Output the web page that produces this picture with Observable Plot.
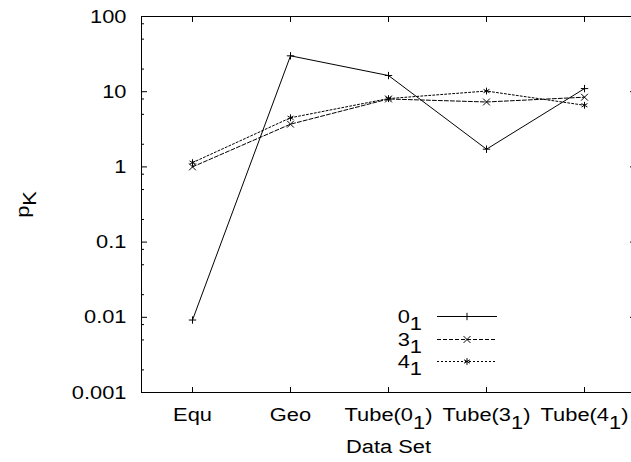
<!DOCTYPE html>
<html>
<head>
<meta charset="utf-8">
<script src="https://cdn.jsdelivr.net/npm/d3@7"></script>
<script src="https://cdn.jsdelivr.net/npm/@observablehq/plot@0.6"></script>
<style>
  html, body { margin: 0; padding: 0; background: #fff; overflow: hidden; }
  svg { display: block; }
</style>
</head>
<body>
<div id="chart"></div>
<script>
// ---- data ----
const categories = ["Equ", "Geo", "Tube(0_1)", "Tube(3_1)", "Tube(4_1)"];
const seriesNames = ["0_1", "3_1", "4_1"];
const p01 = [0.0092, 30, 16.4, 1.72, 11.0];
const p31 = [1.0, 3.7, 8.0, 7.3, 8.45];
const p41 = [1.14, 4.5, 8.1, 10.2, 6.6];
const yTicks = [0.001, 0.01, 0.1, 1, 10, 100];
const yTickLabels = ["0.001", "0.01", "0.1", "1", "10", "100"];
const yMinorTicks = [0.002, 0.005, 0.008, 0.02, 0.05, 0.08, 0.2, 0.5, 0.8, 2, 5, 8, 20, 50, 80];
const xLabel = "Data Set";
const yLabel = "p_K";

// ---- styles per series ----
const seriesStyle = [
  {values: p01, dash: null, symbol: "plus", d3sym: d3.symbolPlus, r: 2.5},
  {values: p31, dash: "4,2", symbol: "times", d3sym: d3.symbolTimes, r: 3.2},
  {values: p41, dash: "2,2", symbol: "asterisk", d3sym: d3.symbolAsterisk, r: 3.2}
];

const rows = seriesStyle.map((s) => categories.map((c, i) => ({cat: c, v: s.values[i]})));
const fmtY = (d) => yTickLabels[yTicks.indexOf(d)];

const marks = [
  Plot.frame({stroke: "black", strokeWidth: 1}),
  Plot.axisX({anchor: "bottom", tickSize: -5, tickPadding: 20, label: null}),
  Plot.axisX({anchor: "top", tickSize: -5, tickFormat: () => "", label: null}),
  Plot.axisY({anchor: "left", ticks: yTicks, tickSize: -6, tickPadding: 21, tickFormat: fmtY, label: null}),
  Plot.axisY({anchor: "left", ticks: yMinorTicks, tickSize: -3, tickFormat: () => "", label: null}),
  Plot.axisY({anchor: "right", ticks: yTicks, tickSize: -6, tickFormat: () => "", label: null}),
  Plot.axisY({anchor: "right", ticks: yMinorTicks, tickSize: -3, tickFormat: () => "", label: null}),
  Plot.text([xLabel], {text: (d) => d, frameAnchor: "bottom", lineAnchor: "middle", textAnchor: "middle", dy: 54}),
  Plot.text([yLabel], {text: (d) => d, frameAnchor: "left", lineAnchor: "middle", textAnchor: "middle", dx: -119, rotate: -90})
];
seriesStyle.forEach((s, k) => {
  marks.push(Plot.line(rows[k], {x: "cat", y: "v", stroke: "black", strokeWidth: 1, strokeDasharray: s.dash}));
  marks.push(Plot.dot(rows[k], {x: "cat", y: "v", symbol: s.symbol, r: s.r, stroke: "black", fill: "none", strokeWidth: 1}));
});

const chart = Plot.plot({
  width: 631,
  height: 462,
  marginLeft: 141,
  marginRight: -4,
  marginTop: 16,
  marginBottom: 70,
  x: {type: "point", domain: categories, padding: 0.5},
  y: {type: "log", domain: [0.001, 100]},
  style: {fontFamily: "'Liberation Sans', Arial, sans-serif", fontSize: "19px", fontWeight: "normal", color: "black", background: "white", overflow: "hidden"},
  marks
});

// ---- legend (pixel layout) ----
const svg = d3.select(chart);
const lg = svg.append("g").attr("font-family", "'Liberation Sans', Arial, sans-serif").attr("font-size", 19);
const legendY = [316, 339, 361];
seriesNames.forEach((name, k) => {
  const s = seriesStyle[k];
  const y = legendY[k];
  lg.append("text").attr("transform", `translate(422,${y})`).attr("text-anchor", "end")
    .attr("dy", "0.35em").attr("fill", "black").text(name);
  lg.append("line").attr("x1", 437).attr("x2", 497).attr("y1", y + 0.5).attr("y2", y + 0.5)
    .attr("stroke", "black").attr("stroke-width", 1).attr("stroke-dasharray", s.dash);
  lg.append("path").attr("transform", `translate(467,${y + 0.5})`)
    .attr("d", d3.symbol(s.d3sym, Math.PI * s.r * s.r)())
    .attr("stroke", "black").attr("fill", "none");
});

// ---- subscripts and horizontal stretch of text ----
chart.querySelectorAll("text").forEach((el) => {
  const s = el.textContent;
  const m = s.match(/^(.*?)_(.)(.*)$/);
  if (m) {
    while (el.firstChild) el.removeChild(el.firstChild);
    const ns = "http://www.w3.org/2000/svg";
    const a = document.createElementNS(ns, "tspan"); a.textContent = m[1]; el.appendChild(a);
    const b = document.createElementNS(ns, "tspan"); b.textContent = m[2]; b.setAttribute("dy", "0.4em"); el.appendChild(b);
    if (m[3]) { const c = document.createElementNS(ns, "tspan"); c.textContent = m[3]; c.setAttribute("dy", "-0.4em"); el.appendChild(c); }
  }
  let t = el.getAttribute("transform");
  if (!t) {
    const x = parseFloat(el.getAttribute("x")) || 0, y = parseFloat(el.getAttribute("y")) || 0;
    el.removeAttribute("x"); el.removeAttribute("y");
    t = `translate(${x},${y})`;
  }
  el.setAttribute("transform", t + " scale(1.15,1)");
});

document.getElementById("chart").appendChild(chart);
</script>
</body>
</html>
